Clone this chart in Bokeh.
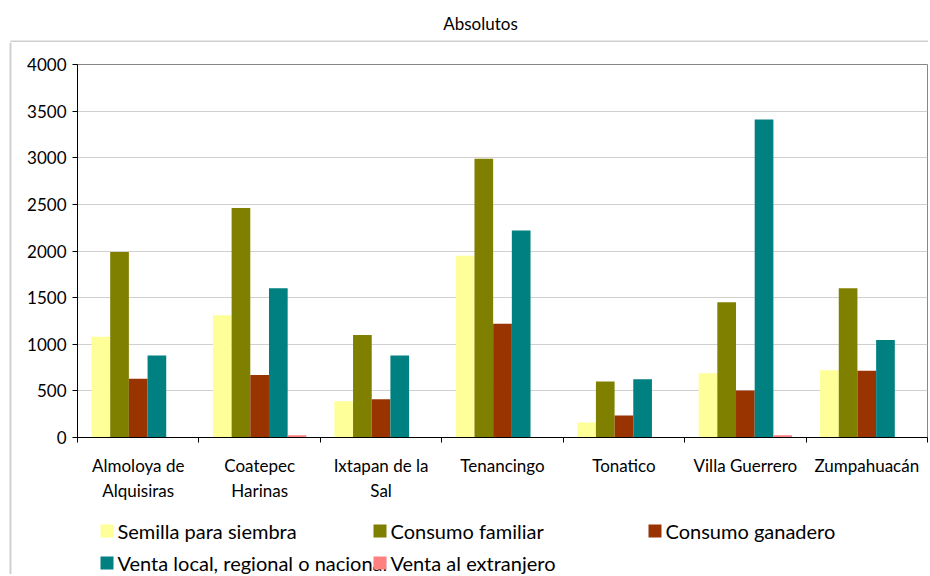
from bokeh.plotting import figure
from bokeh.models import Range1d, FixedTicker, ColumnDataSource
from bokeh.layouts import column, row
from bokeh.core.properties import value
from bokeh.embed import file_html
from bokeh.resources import INLINE

categories = ["Almoloya de\nAlquisiras", "Coatepec\nHarinas", "Ixtapan de la\nSal",
              "Tenancingo", "Tonatico", "Villa Guerrero", "Zumpahuacán"]
series_names = ["Semilla para siembra", "Consumo familiar", "Consumo ganadero",
                "Venta local, regional o nacional", "Venta al extranjero"]
semilla = [1080, 1310, 390, 1950, 160, 690, 720]
familiar = [1990, 2460, 1100, 2990, 600, 1450, 1600]
ganadero = [630, 670, 410, 1220, 235, 505, 715]
venta_local = [880, 1600, 880, 2220, 625, 3410, 1045]
extranjero = [0, 25, 0, 0, 0, 25, 0]
colors = ["#FFFF99", "#808000", "#993300", "#008080", "#FF8080"]
y_ticks = [0, 500, 1000, 1500, 2000, 2500, 3000, 3500, 4000]
title_text = "Absolutos"

series = [semilla, familiar, ganadero, venta_local, extranjero]
FONT = "Lato"
BORDER = "#d0d0d0"

W, H = 928, 574
TITLE_H = 42          # title strip height
STRIP_W = 20          # left strip that carries the chart border
MAIN_H = 468
LEG_H = H - TITLE_H - MAIN_H
MAIN_W = W - STRIP_W


def blank(w, h):
    f = figure(width=w, height=h, output_backend="svg", toolbar_location=None,
               x_range=Range1d(0, w), y_range=Range1d(h, 0),
               x_axis_location=None, y_axis_location=None, min_border=0)
    f.outline_line_color = None
    f.grid.visible = False
    f.background_fill_color = "white"
    f.border_fill_color = "white"
    return f


# ---- title strip (with top border of the chart area)
tf = blank(W, TITLE_H)
tf.text(x=[W / 2 + 16], y=[23], text=[title_text], text_font=value(FONT),
        text_font_size=value("17px"), text_align="center", text_baseline="middle",
        text_color="black")
tf.segment(x0=[10], y0=[TITLE_H - 1], x1=[W], y1=[TITLE_H - 1], line_color=BORDER, line_width=2)

# ---- left strip (left border of the chart area)
sf = blank(STRIP_W, H - TITLE_H)
sf.segment(x0=[10], y0=[0], x1=[10], y1=[H - TITLE_H], line_color=BORDER, line_width=2)

# ---- main chart
L, T, B, R = 77 - STRIP_W, 64 - TITLE_H, 437 - TITLE_H, 927 - STRIP_W
p = figure(width=MAIN_W, height=MAIN_H, output_backend="svg", toolbar_location=None,
           x_range=Range1d(0, len(categories)), y_range=Range1d(0, 4000),
           min_border_left=L, min_border_right=MAIN_W - R, min_border_top=T,
           min_border_bottom=MAIN_H - B)
p.background_fill_color = "white"
p.border_fill_color = "white"
p.outline_line_color = "#868686"
p.outline_line_width = 1

n = len(series)
bw = 1.0 / (n + 1.5)
for j, (vals, col) in enumerate(zip(series, colors)):
    xs = [i + 0.5 + (j - (n - 1) / 2) * bw for i in range(len(categories))]
    src = ColumnDataSource(dict(x=xs, top=vals))
    p.vbar(x="x", top="top", bottom=0, width=bw, source=src,
           fill_color=col, line_color=None)

p.xgrid.visible = False
p.ygrid.ticker = FixedTicker(ticks=y_ticks)
p.ygrid.grid_line_color = "#d0d0d0"
p.ygrid.grid_line_width = 1

ya = p.yaxis[0]
ya.ticker = FixedTicker(ticks=y_ticks)
ya.axis_line_color = "black"
ya.major_tick_line_color = "black"
ya.major_tick_out = 5
ya.major_tick_in = 0
ya.minor_tick_line_color = None
ya.major_label_standoff = 6
ya.major_label_text_font = FONT
ya.major_label_text_font_size = "17px"
ya.major_label_text_color = "black"

xa = p.xaxis[0]
xa.ticker = FixedTicker(ticks=[i + 0.5 for i in range(len(categories))],
                        minor_ticks=list(range(len(categories) + 1)))
xa.major_label_overrides = {i + 0.5: c for i, c in enumerate(categories)}
xa.axis_line_color = "black"
xa.major_tick_line_color = None
xa.major_tick_out = 0
xa.major_tick_in = 0
xa.minor_tick_line_color = "black"
xa.minor_tick_out = 5
xa.minor_tick_in = 0
xa.major_label_standoff = 12
xa.major_label_text_font = FONT
xa.major_label_text_font_size = "17px"
xa.major_label_text_color = "black"
xa.major_label_orientation = "horizontal"

# ---- legend (Excel-like grid; the last item overlaps the long label, as in the original)
# its frame is aligned with the chart frame by the column layout, so the x range uses
# the same horizontal pixel span as the chart frame
lf = figure(width=MAIN_W, height=LEG_H, output_backend="svg", toolbar_location=None,
            x_range=Range1d(L, R), y_range=Range1d(LEG_H, 0),
            x_axis_location=None, y_axis_location=None,
            min_border_left=L, min_border_right=MAIN_W - R, min_border_top=0,
            min_border_bottom=0)
lf.outline_line_color = None
lf.grid.visible = False
lf.background_fill_color = "white"
lf.border_fill_color = "white"

col_x = [100 - STRIP_W, 373 - STRIP_W, 648 - STRIP_W]
row_top = [524 - TITLE_H - MAIN_H, 556 - TITLE_H - MAIN_H]
sq = 13
lx, ly, lt, qx0, qx1, qy0, qy1 = [], [], [], [], [], [], []
for k, name in enumerate(series_names):
    r, c = divmod(k, 3)
    x0, y0 = col_x[c], row_top[r]
    lx.append(x0 + 17)
    ly.append(y0 + sq / 2)
    lt.append(name)
    qx0.append(x0)
    qx1.append(x0 + sq)
    qy0.append(y0)
    qy1.append(y0 + sq)
lf.text(x=lx, y=ly, text=lt, text_font=value(FONT), text_font_size=value("20px"),
        text_align="left", text_baseline="middle", text_color="black")
lf.quad(left=qx0, right=qx1, top=qy0, bottom=qy1, fill_color=colors, line_color=None)

layout = column(tf, row(sf, column(p, lf, spacing=0), spacing=0), spacing=0)

open("out.html", "w").write(file_html(layout, INLINE))
